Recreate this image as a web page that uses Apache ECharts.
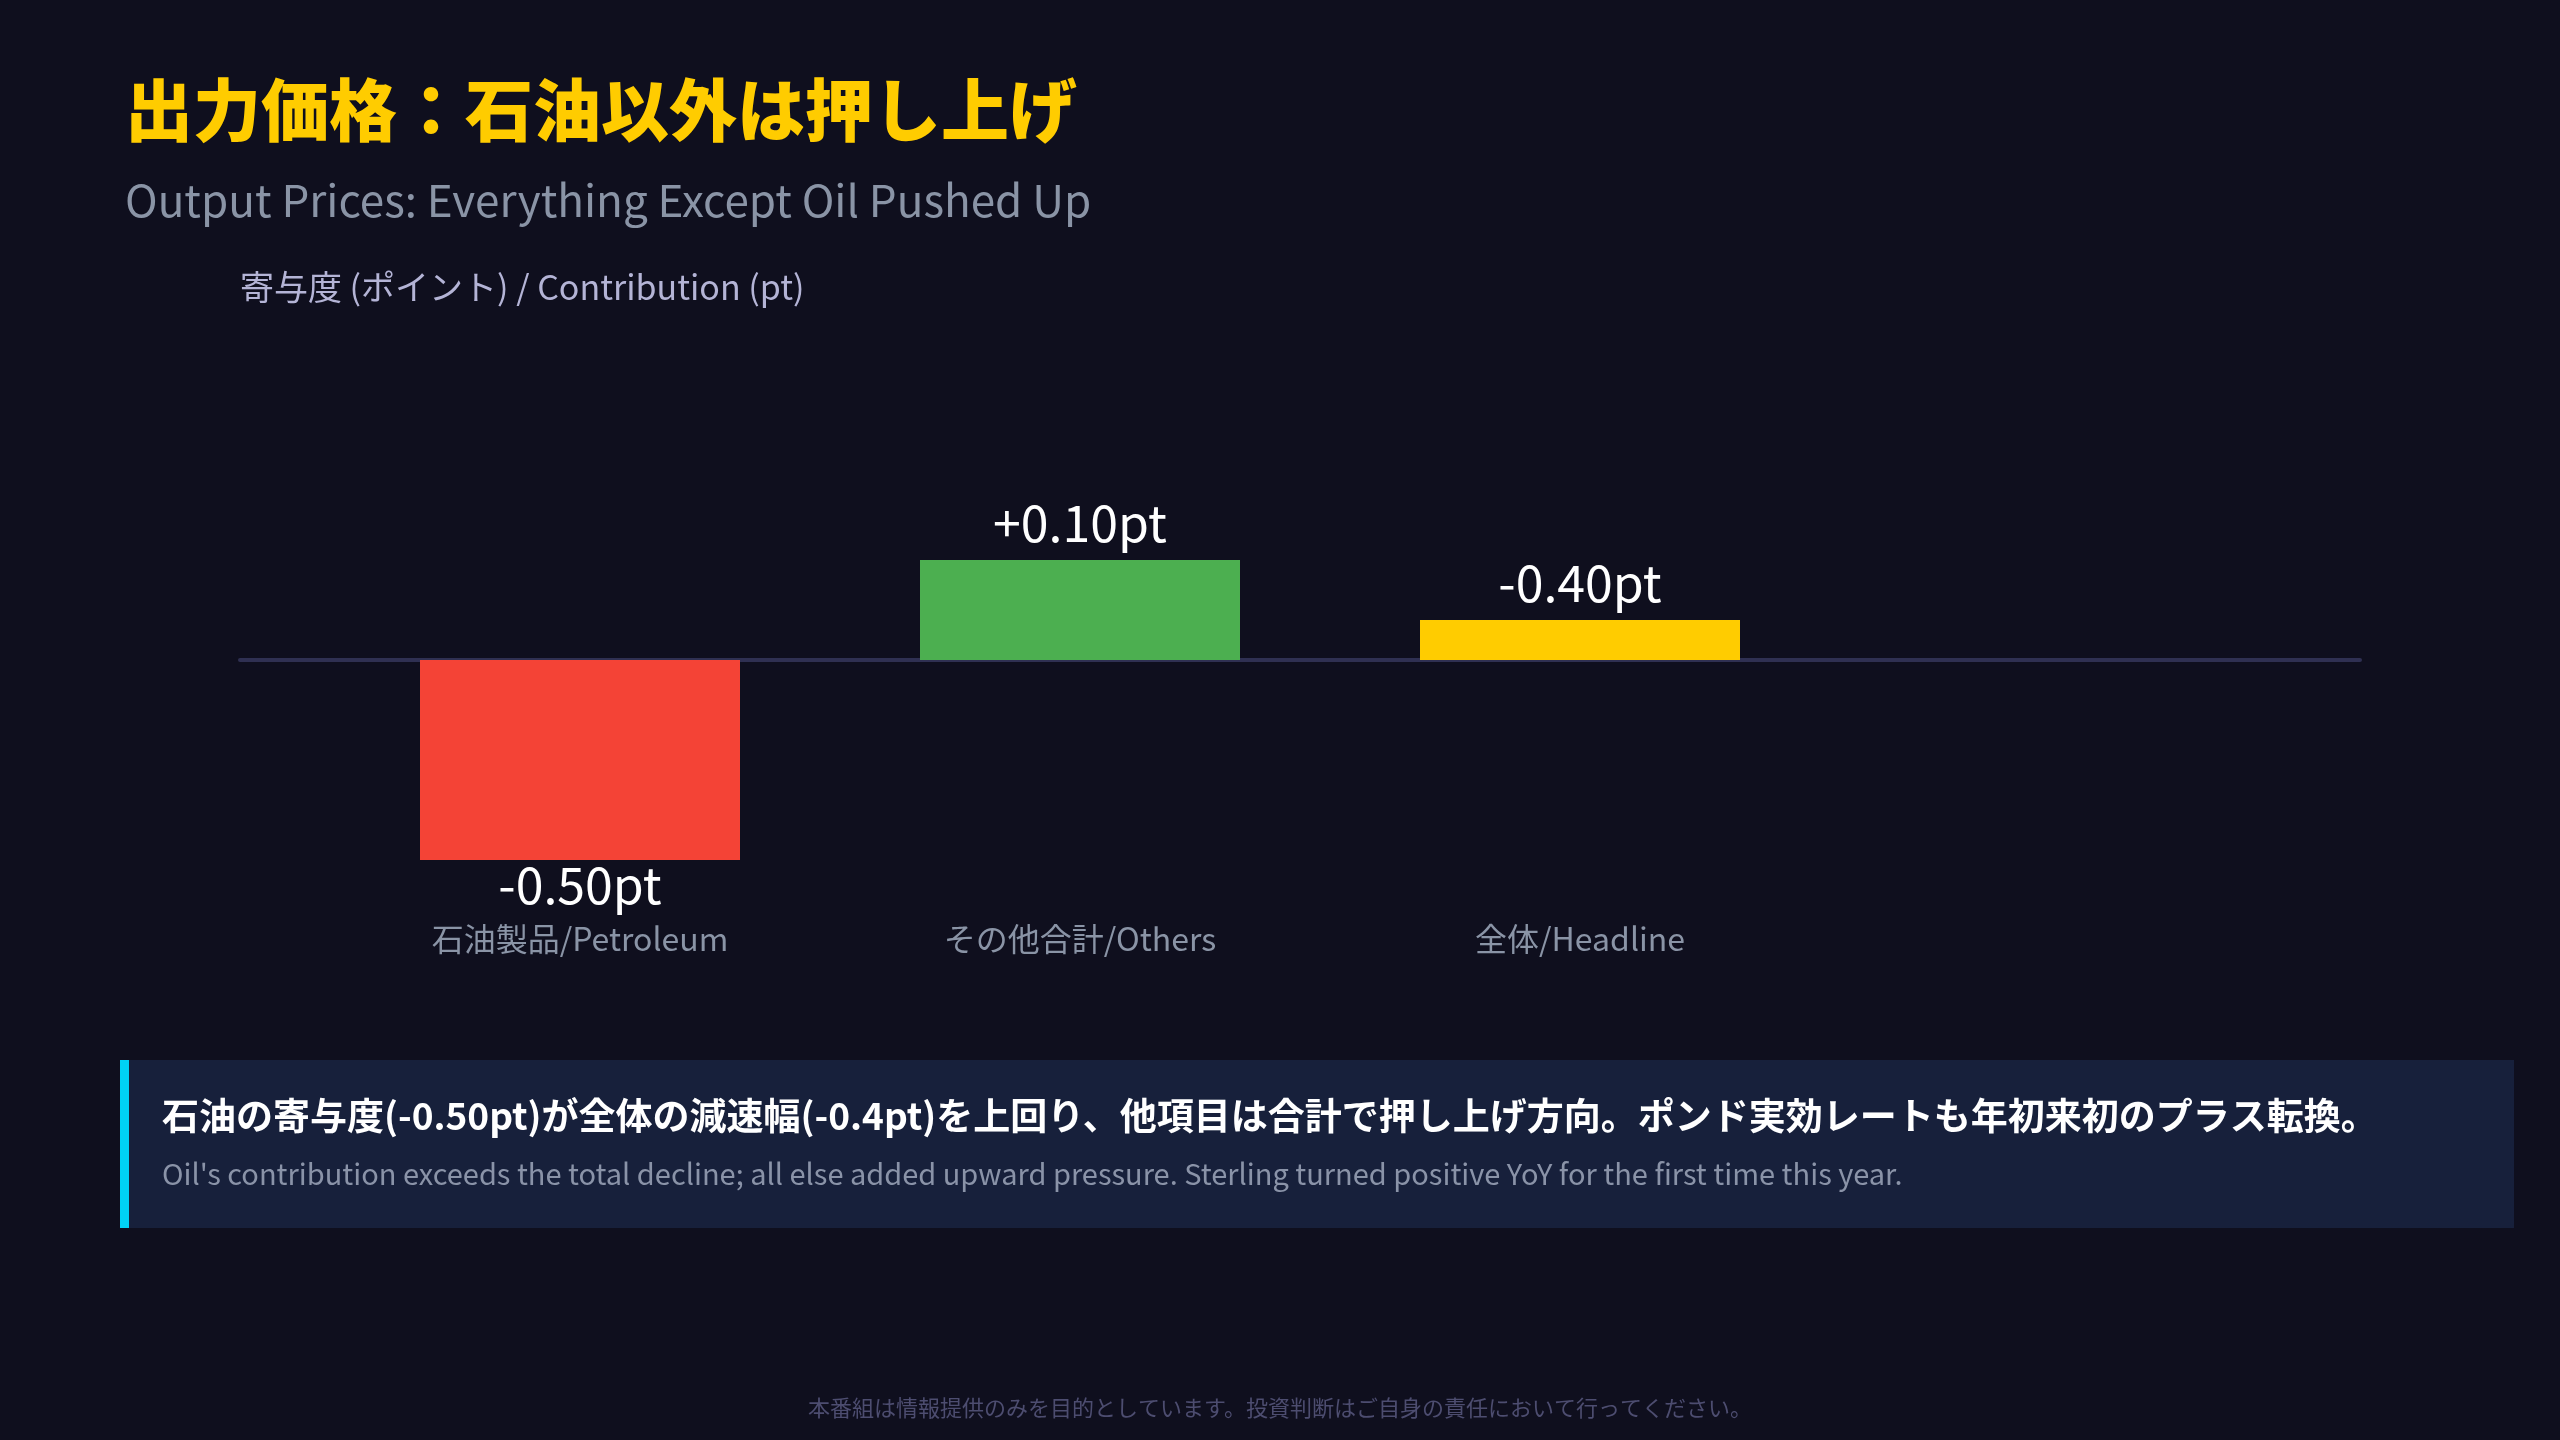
<!DOCTYPE html>
<html>
<head>
<meta charset="utf-8">
<script src="https://cdn.jsdelivr.net/npm/echarts@6/dist/echarts.min.js"></script>
<style>
html,body{margin:0;padding:0;background:#0f0f1e;}
#chart{width:2560px;height:1440px;}
</style>
</head>
<body>
<div id="chart"></div>
<script>
// ---- data ----
var categories = ['石油製品/Petroleum', 'その他合計/Others', '全体/Headline'];
var values = [-0.5, 0.1, 0.04];
var valueLabels = ['-0.50pt', '+0.10pt', '-0.40pt'];
var barColors = ['#F44336', '#4CAF50', '#FFCC00'];
var yMin = -0.2, yMax = 0.3;

var titleText = '出力価格：石油以外は押し上げ';
var subtitleText = 'Output Prices: Everything Except Oil Pushed Up';
var yAxisName = '寄与度 (ポイント) / Contribution (pt)';
var noteMain = '石油の寄与度(-0.50pt)が全体の減速幅(-0.4pt)を上回り、他項目は合計で押し上げ方向。ポンド実効レートも年初来初のプラス転換。';
var noteSub = "Oil's contribution exceeds the total decline; all else added upward pressure. Sterling turned positive YoY for the first time this year.";
var footerText = '本番組は情報提供のみを目的としています。投資判断はご自身の責任において行ってください。';

var FONT = '"Noto Sans CJK JP", "Noto Sans", sans-serif';

var chart = echarts.init(document.getElementById('chart'), null, {renderer: 'canvas'});

var barData = values.map(function (v, i) {
  return {
    value: v,
    itemStyle: {color: barColors[i]},
    label: v < 0 ? {position: 'bottom', distance: 0} : {position: 'top', distance: 12}
  };
});

var option = {
  backgroundColor: '#0f0f1e',
  animation: false,
  textStyle: {fontFamily: FONT},
  title: [
    {
      text: titleText, left: 120, top: 71,
      textStyle: {color: '#FFCC00', fontSize: 68, fontWeight: 900, fontFamily: FONT}
    },
    {
      text: subtitleText, left: 120, top: 173,
      textStyle: {color: '#8a94a6', fontSize: 44, fontWeight: 'normal', fontFamily: FONT}
    }
  ],
  grid: [
    {left: 330, right: 730, top: 360, bottom: 580},
    {left: 240, right: 200, top: 360, bottom: 580}
  ],
  xAxis: [
    {
      type: 'category', gridIndex: 0, data: categories,
      axisLine: {show: false, onZero: false}, axisTick: {show: false},
      axisLabel: {color: '#8a94a6', fontSize: 32, margin: 63, fontFamily: FONT},
      splitLine: {show: false}
    },
    {
      type: 'category', gridIndex: 1, data: [''],
      axisLine: {show: true, onZero: true, lineStyle: {color: '#2f3052', width: 4}},
      axisTick: {show: false}, axisLabel: {show: false}, splitLine: {show: false}
    }
  ],
  yAxis: [
    {type: 'value', gridIndex: 0, min: yMin, max: yMax, show: false},
    {
      type: 'value', gridIndex: 1, min: yMin, max: yMax,
      name: yAxisName, nameLocation: 'end', nameGap: 56,
      nameTextStyle: {color: '#b4b4d6', fontSize: 34, align: 'left', fontFamily: FONT},
      axisLine: {show: false}, axisTick: {show: false}, axisLabel: {show: false},
      splitLine: {show: false}
    }
  ],
  series: [
    {
      type: 'bar', xAxisIndex: 0, yAxisIndex: 0, data: barData,
      barWidth: 320, clip: true, z: 5,
      label: {
        show: true, color: '#ffffff', fontSize: 50, fontFamily: FONT,
        formatter: function (p) { return valueLabels[p.dataIndex]; }
      }
    }
  ],
  graphic: [
    {type: 'rect', left: 120, top: 1060, shape: {width: 2394, height: 168}, style: {fill: '#17203b'}, z: 1},
    {type: 'rect', left: 120, top: 1060, shape: {width: 9, height: 168}, style: {fill: '#00d2f5'}, z: 2},
    {type: 'text', left: 162, top: 1097, style: {text: noteMain, fill: '#ffffff', fontSize: 37, fontWeight: 'bold', fontFamily: FONT}, z: 3},
    {type: 'text', left: 162, top: 1159, style: {text: noteSub, fill: '#8a93a8', fontSize: 29, fontFamily: FONT}, z: 3},
    {type: 'text', left: 'center', top: 1397, style: {text: footerText, fill: '#4d4d70', fontSize: 22, fontFamily: FONT}, z: 3}
  ]
};

chart.setOption(option);
</script>
</body>
</html>
